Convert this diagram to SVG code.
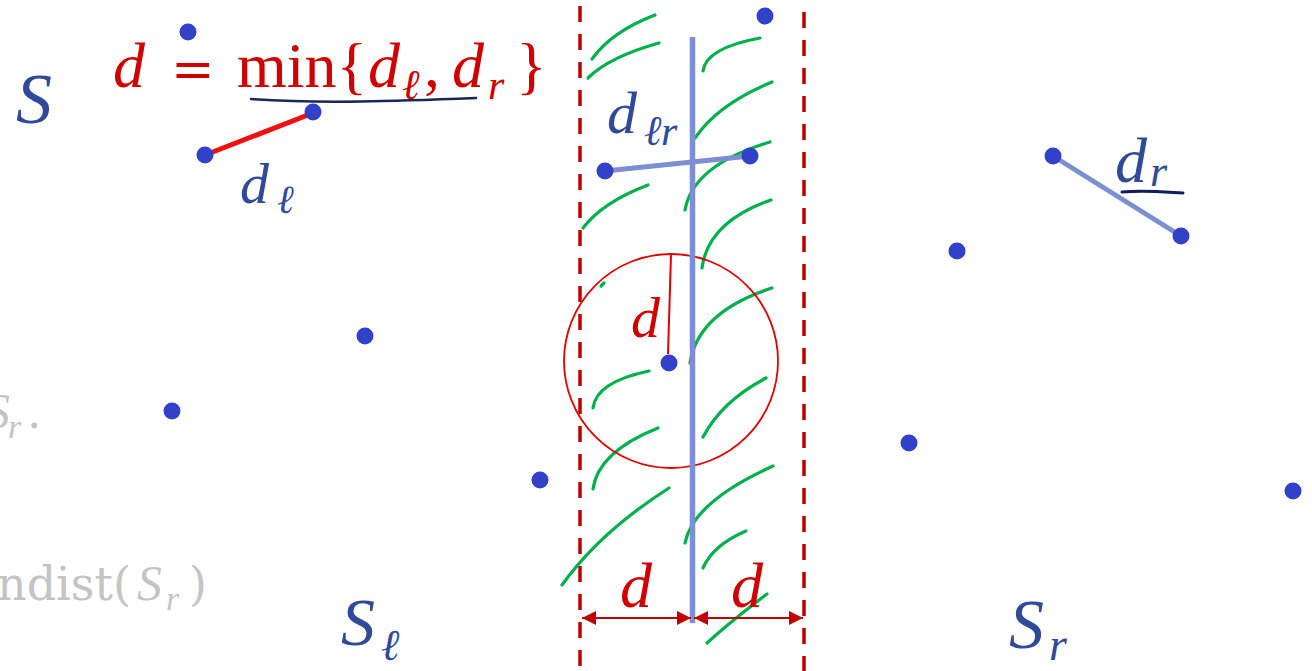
<svg xmlns="http://www.w3.org/2000/svg" width="1312" height="671" viewBox="0 0 1312 671">
<style>
.v{font-family:"Liberation Serif","DejaVu Serif",serif;font-style:italic}
.u{font-family:"Liberation Serif","DejaVu Serif",serif;font-style:normal}
.w{font-family:"DejaVu Serif","Liberation Serif",serif;font-style:normal}
.red{fill:#d00000}
.blue{fill:#2f4a9a}
.gray{fill:#c4c4c4}
.pt{fill:#3340c8}
.hatch path{fill:none;stroke:#00b04c;stroke-width:3.2;stroke-linecap:round}
.dash{stroke:#c00000;stroke-width:3.5;stroke-dasharray:16 12}
.seg{stroke:#7b8fd1;stroke-width:5;stroke-linecap:round}
</style>
<defs>
<marker id="ah" viewBox="0 0 10 10" refX="10" refY="5" markerUnits="userSpaceOnUse" markerWidth="15" markerHeight="14" orient="auto-start-reverse">
<path d="M0,0 L10,5 L0,10 z" fill="#c00000"/>
</marker>
</defs>
<rect width="1312" height="671" fill="#ffffff"/>

<g id="faded-text">
<text class="v gray" font-size="50" x="-15" y="428">S</text>
<text class="v gray" font-size="34" x="8" y="438">r</text>
<text class="u gray" font-size="50" x="28" y="428">.</text>
<text class="w gray" font-size="46" x="-3" y="600">ndist(</text>
<text class="v gray" font-size="50" x="137" y="600">S</text>
<text class="v gray" font-size="34" x="166" y="610">r</text>
<text class="w gray" font-size="46" x="189" y="600">)</text>
</g>

<g id="strip">
<line class="dash" x1="580" y1="6" x2="580" y2="671"/>
<line class="dash" x1="804" y1="12" x2="804" y2="671"/>
</g>

<g id="hatch" class="hatch">
<path d="M592,59 Q611,32 655,15"/>
<path d="M588,78 Q609,57 659,43"/>
<path d="M703,71 Q706,48 760,38"/>
<path d="M695,138 Q718,104 772,82"/>
<path d="M685,210 Q693,165 770,142"/>
<path d="M583,228 Q603,202 648,185"/>
<path d="M702,268 Q708,222 771,200"/>
<path d="M601,286 L604,283"/>
<path d="M690,363 Q698,312 772,288"/>
<path d="M593,408 Q596,382 649,371"/>
<path d="M703,437 Q722,401 766,378"/>
<path d="M593,489 Q598,452 658,428"/>
<path d="M685,543 Q693,502 773,466"/>
<path d="M562,585 Q600,532 669,488"/>
<path d="M703,568 Q713,545 746,531"/>
<path d="M707,643 Q730,622 767,594"/>
</g>

<g id="circle">
<circle cx="671" cy="361" r="107" fill="none" stroke="#e00000" stroke-width="1.8"/>
<line x1="668" y1="354" x2="671" y2="254" stroke="#e00000" stroke-width="2"/>
<text class="v red" font-size="58" x="631" y="337">d</text>
</g>

<g id="divider">
<line x1="692.5" y1="37" x2="692.5" y2="623" stroke="#7b8fd1" stroke-width="5.5"/>
</g>

<g id="connectors">
<line x1="205" y1="155" x2="313" y2="113" stroke="#ee1111" stroke-width="5" stroke-linecap="round"/>
<line class="seg" x1="605" y1="171" x2="750" y2="156"/>
<line class="seg" x1="1053" y1="156" x2="1181" y2="236"/>
<line x1="582" y1="618" x2="691" y2="618" stroke="#c00000" stroke-width="2" marker-start="url(#ah)" marker-end="url(#ah)"/>
<line x1="694" y1="618" x2="803" y2="618" stroke="#c00000" stroke-width="2" marker-start="url(#ah)" marker-end="url(#ah)"/>
</g>

<g id="points">
<circle class="pt" cx="188" cy="32" r="8.5"/>
<circle class="pt" cx="313" cy="112" r="8.5"/>
<circle class="pt" cx="205" cy="155" r="8.5"/>
<circle class="pt" cx="365" cy="336" r="8.5"/>
<circle class="pt" cx="172" cy="411" r="8.5"/>
<circle class="pt" cx="540" cy="480" r="8.5"/>
<circle class="pt" cx="765" cy="16" r="8.5"/>
<circle class="pt" cx="605" cy="171" r="8.5"/>
<circle class="pt" cx="750" cy="156" r="8.5"/>
<circle class="pt" cx="669" cy="363" r="8.5"/>
<circle class="pt" cx="1053" cy="156" r="8.5"/>
<circle class="pt" cx="1181" cy="236" r="8.5"/>
<circle class="pt" cx="957" cy="251" r="8.5"/>
<circle class="pt" cx="909" cy="443" r="8.5"/>
<circle class="pt" cx="1293" cy="491" r="8.5"/>
</g>

<g id="formula">
<text class="red" font-size="64" y="87">
<tspan class="v" x="113">d</tspan><tspan class="w" x="171" font-size="52">=</tspan><tspan class="u" x="237" font-size="64">min{</tspan><tspan class="v" x="368">d</tspan><tspan class="v" x="402" y="99" font-size="42">ℓ</tspan><tspan class="u" x="424" y="87">,</tspan><tspan class="v" x="452">d</tspan><tspan class="v" x="488" y="99" font-size="42">r</tspan><tspan class="u" x="516" y="87">}</tspan>
</text>
<path d="M251,99 C320,104 400,101 476,98" fill="none" stroke="#14285a" stroke-width="2.5" stroke-linecap="round"/>
</g>

<g id="labels">
<text class="v blue" font-size="72" x="16" y="123">S</text>
<text class="v blue" font-size="58" x="240" y="203">d</text>
<text class="v blue" font-size="40" x="277" y="213">ℓ</text>
<text class="v blue" font-size="60" x="607" y="133">d</text>
<text class="v blue" font-size="42" x="644" y="145">ℓ</text>
<text class="v blue" font-size="42" x="661" y="145">r</text>
<text class="v blue" font-size="64" x="1115" y="182">d</text>
<text class="v blue" font-size="44" x="1150" y="186">r</text>
<path d="M1122,192 C1145,190 1165,192 1183,193" fill="none" stroke="#0e1f5a" stroke-width="3" stroke-linecap="round"/>
<text class="v blue" font-size="68" x="341" y="645">S</text>
<text class="v blue" font-size="44" x="381" y="660">ℓ</text>
<text class="v blue" font-size="70" x="1009" y="648">S</text>
<text class="v blue" font-size="46" x="1049" y="660">r</text>
<text class="v red" font-size="64" x="620" y="607">d</text>
<text class="v red" font-size="64" x="731" y="607">d</text>
</g>
</svg>
